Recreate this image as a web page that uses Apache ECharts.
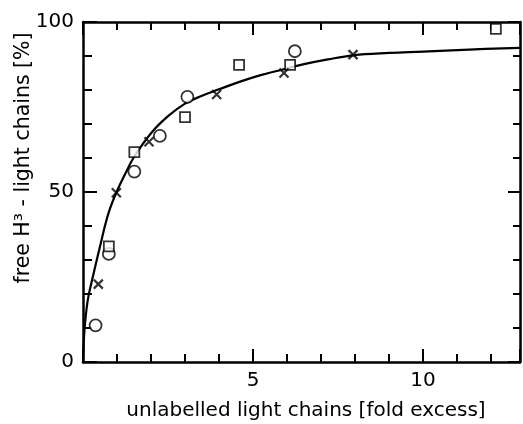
<!DOCTYPE html>
<html>
<head>
<meta charset="utf-8">
<script src="https://cdn.jsdelivr.net/npm/echarts@6/dist/echarts.min.js"></script>
<style>
html,body{margin:0;padding:0;background:#fff;}
#c{width:523px;height:424px;}
</style>
</head>
<body>
<div id="c"></div>
<script>
// ---- data ----
const circleX = [0.37, 0.76, 1.51, 2.26, 3.07, 6.23];
const circleY = [10.8, 31.8, 56.0, 66.5, 78.0, 91.4];
const squareX = [0.76, 1.51, 3.0, 4.59, 6.09, 12.14];
const squareY = [34.0, 61.7, 72.0, 87.4, 87.4, 98.0];
const crossX = [0.45, 0.98, 1.94, 3.93, 5.91, 7.94];
const crossY = [22.9, 49.8, 64.8, 78.7, 85.0, 90.4];
const curveX = [0, 0.04, 0.14, 0.3, 0.5, 0.75, 1.0, 1.25, 1.5, 2.0, 2.5, 3.0, 3.5, 4.0, 4.6, 5.2, 5.9, 6.5, 7.2, 7.94, 9.0, 10.0, 11.35, 12.85];
const curveY = [0, 8.9, 18.2, 25.5, 34.0, 43.8, 50.3, 55.5, 60.3, 67.3, 72.3, 76.0, 78.3, 80.2, 82.4, 84.3, 86.1, 87.6, 89.0, 90.2, 90.9, 91.3, 91.9, 92.4];
const xTickLabels = [5, 10];
const yTickLabels = [0, 50, 100];
const xTitle = 'unlabelled light chains [fold excess]';
const yTitle = 'free H³ - light chains [%]';
const X_MIN = 0, X_MAX = 12.85, Y_MIN = 0, Y_MAX = 100;

const zip = (a, b) => a.map((v, i) => [v, b[i]]);
const FONT = 'DejaVu Sans';
const black = '#000';

function xAx(pos, interval, len, showLine, showLabel) {
  return {
    type: 'value', position: pos, min: X_MIN, max: X_MAX, interval: interval,
    axisLine: {show: showLine, onZero: false, lineStyle: {color: black, width: 2.5}},
    axisTick: {show: true, inside: true, length: len, lineStyle: {color: black, width: 2}},
    axisLabel: {show: showLabel, margin: 9, color: black, fontSize: 20, fontFamily: FONT,
      formatter: v => xTickLabels.includes(v) ? String(v) : ''},
    splitLine: {show: false}
  };
}
function yAx(pos, interval, len, showLine, showLabel) {
  return {
    type: 'value', position: pos, min: Y_MIN, max: Y_MAX, interval: interval,
    axisLine: {show: showLine, onZero: false, lineStyle: {color: black, width: 2.5}},
    axisTick: {show: true, inside: true, length: len, lineStyle: {color: black, width: 2}},
    axisLabel: {show: showLabel, margin: 9, color: black, fontSize: 20, fontFamily: FONT,
      formatter: v => yTickLabels.includes(v) ? String(v) : ''},
    splitLine: {show: false}
  };
}

const chart = echarts.init(document.getElementById('c'), null, {renderer: 'canvas'});
chart.setOption({
  backgroundColor: '#fff',
  animation: false,
  grid: {left: 83, right: 2, top: 22, bottom: 62, containLabel: false},
  xAxis: [
    xAx('bottom', 1, 8, true, false),
    xAx('bottom', 5, 13, false, true),
    xAx('top', 1, 8, true, false),
    xAx('top', 5, 13, false, false)
  ],
  yAxis: [
    yAx('left', 10, 9, true, false),
    yAx('left', 50, 14, false, true),
    yAx('right', 10, 7, true, false),
    yAx('right', 50, 12, false, false)
  ],
  series: [
    {
      type: 'line', data: zip(curveX, curveY), showSymbol: false, symbol: 'none',
      smooth: 0.4,
      lineStyle: {color: black, width: 2.2}, z: 2
    },
    {
      type: 'scatter', data: zip(circleX, circleY), symbol: 'circle', symbolSize: 12,
      itemStyle: {color: '#fff', borderColor: black, borderWidth: 1.8}, z: 4
    },
    {
      type: 'scatter', data: zip(squareX, squareY), symbol: 'rect', symbolSize: 10,
      itemStyle: {color: '#fff', borderColor: black, borderWidth: 1.8}, z: 4
    },
    {
      type: 'scatter', data: zip(crossX, crossY), symbol: 'path://M0,0L10,10M10,0L0,10', symbolSize: 9,
      itemStyle: {color: 'none', borderColor: black, borderWidth: 2.2}, z: 4
    }
  ],
  graphic: [
    {type: 'text', x: 306, y: 411, style: {text: xTitle, fill: black, font: '20px "' + FONT + '"', textAlign: 'center', textVerticalAlign: 'middle'}},
    {type: 'text', x: 24, y: 158, rotation: Math.PI / 2, style: {text: yTitle, fill: black, font: '20.5px "' + FONT + '"', textAlign: 'center', textVerticalAlign: 'middle'}}
  ]
});
</script>
</body>
</html>
